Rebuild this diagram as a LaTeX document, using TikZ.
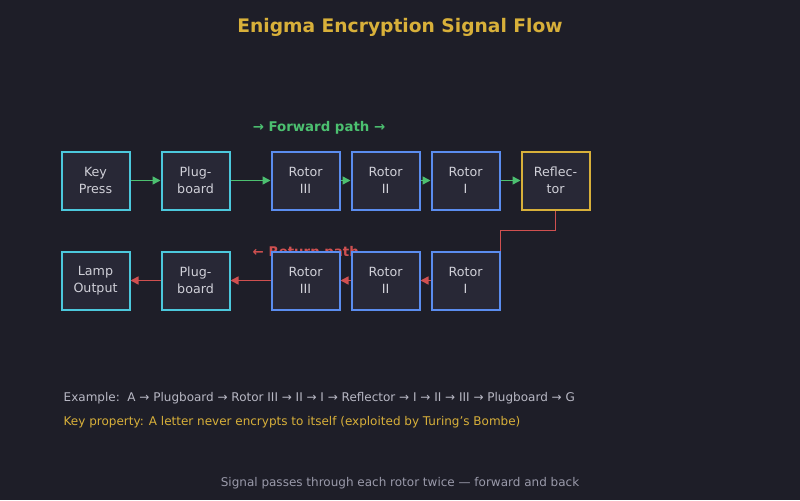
\documentclass[tikz,border=0pt]{standalone}
\usepackage{fontspec}
\setmainfont{DejaVu Sans}
\usetikzlibrary{arrows.meta}
\definecolor{bg}{HTML}{1E1E28}
\definecolor{boxfill}{HTML}{282836}
\definecolor{cyanb}{HTML}{4CC8DC}
\definecolor{blueb}{HTML}{5B8DEF}
\definecolor{goldb}{HTML}{D8B03A}
\definecolor{greenl}{HTML}{4CC070}
\definecolor{redl}{HTML}{D05050}
\definecolor{txt}{HTML}{D0D0D8}
\definecolor{gray1}{HTML}{B8B8C4}
\definecolor{gray2}{HTML}{9A9AAA}
\begin{document}
\begin{tikzpicture}[x=0.75pt,y=-0.75pt,
  box/.style={draw=#1,fill=boxfill,line width=1.5pt,minimum width=51pt,minimum height=43.5pt,inner sep=0pt,align=center,text=txt,font=\fontsize{9.5}{13}\selectfont},
  fw/.style={draw=greenl,line width=1.2pt,-{Triangle[length=6pt,width=6pt]}},
  bw/.style={draw=redl,line width=1.2pt,-{Triangle[length=6pt,width=6pt]}}]
\fill[bg] (0,0) rectangle (800,500);
\useasboundingbox (0,0) rectangle (800,500);
\node[text=goldb,font=\bfseries\fontsize{14}{16}\selectfont] (title) at (400,27) {Enigma Encryption Signal Flow};
\node[text=greenl,font=\bfseries\fontsize{10}{12}\selectfont] (fwl) at (319,128) {→ Forward path →};
\node[text=redl,font=\bfseries\fontsize{10}{12}\selectfont,anchor=west] (bwl) at (248,253) {← Return path};
\node[box=cyanb] (key) at (95.5,180.5) {Key\\Press};
\node[box=cyanb] (pb1) at (195.5,180.5) {Plug-\\board};
\node[box=blueb] (r3a) at (305.5,180.5) {Rotor\\III};
\node[box=blueb] (r2a) at (385.5,180.5) {Rotor\\II};
\node[box=blueb] (r1a) at (465.5,180.5) {Rotor\\I};
\node[box=goldb] (refl) at (555.5,180.5) {Reflec-\\tor};
\node[box=cyanb] (lamp) at (95.5,280.5) {Lamp\\Output};
\node[box=cyanb] (pb2) at (195.5,280.5) {Plug-\\board};
\node[box=blueb] (r3b) at (305.5,280.5) {Rotor\\III};
\node[box=blueb] (r2b) at (385.5,280.5) {Rotor\\II};
\node[box=blueb] (r1b) at (465.5,280.5) {Rotor\\I};
\draw[fw] (key) -- (pb1);
\draw[fw] (pb1) -- (r3a);
\draw[fw] (r3a) -- (r2a);
\draw[fw] (r2a) -- (r1a);
\draw[fw] (r1a) -- (refl);
\draw[redl,line width=1.2pt] (refl.south) -- ++(0,20) -| (r1b.north east);
\draw[bw] (r1b) -- (r2b);
\draw[bw] (r2b) -- (r3b);
\draw[bw] (r3b) -- (pb2);
\draw[bw] (pb2) -- (lamp);
\node[anchor=west,text=gray1,font=\fontsize{9}{11}\selectfont] (ex) at (59,398) {Example:\ \ A → Plugboard → Rotor III → II → I → Reflector → I → II → III → Plugboard → G};
\node[anchor=west,text=goldb,font=\fontsize{9}{11}\selectfont] (kp) at (59,422) {Key property: A letter never encrypts to itself (exploited by Turing's Bombe)};
\node[text=gray2,font=\fontsize{9}{11}\selectfont] (foot) at (400,483) {Signal passes through each rotor twice — forward and back};
\end{tikzpicture}
\end{document}
